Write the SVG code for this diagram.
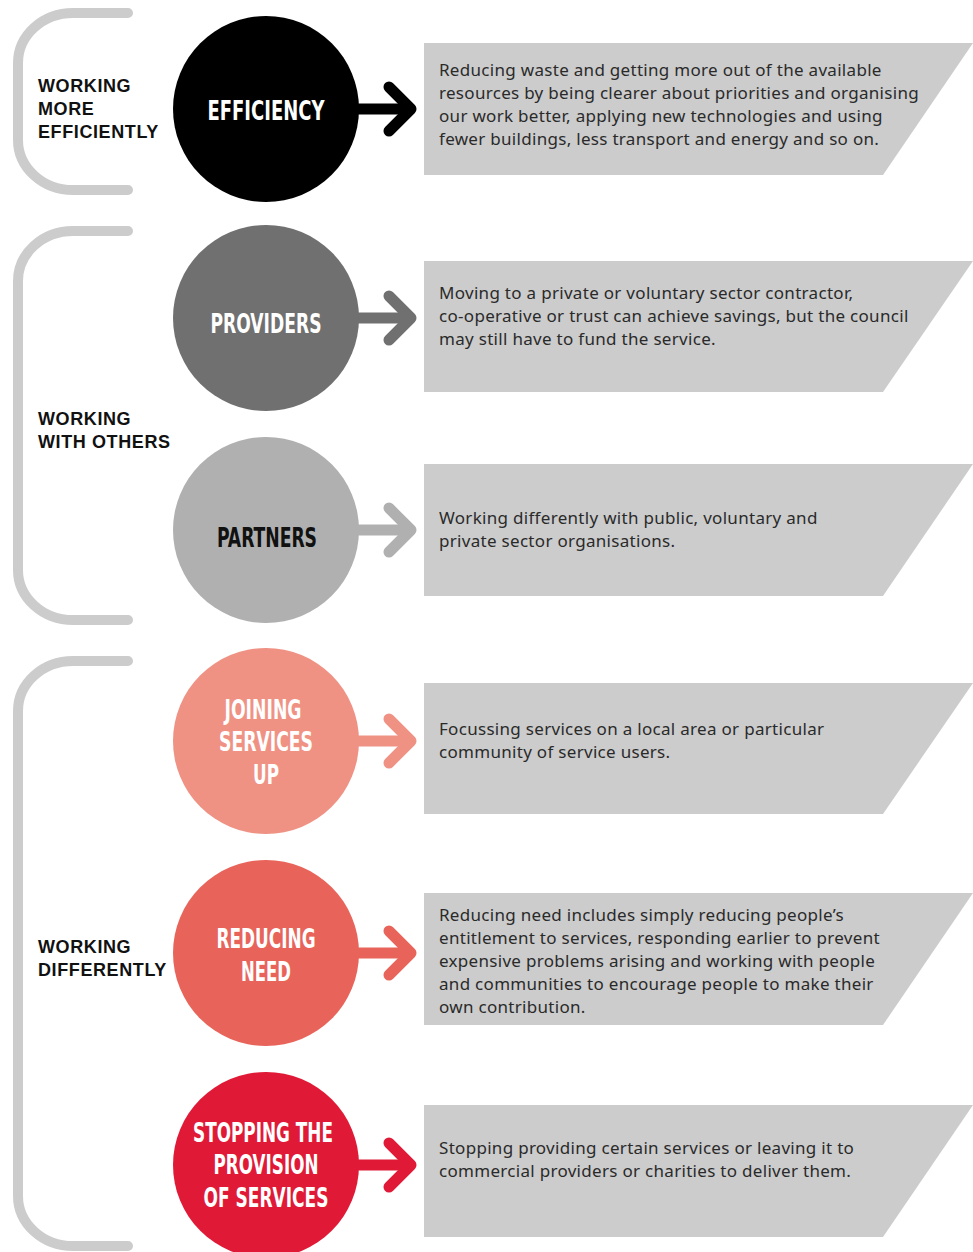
<svg xmlns="http://www.w3.org/2000/svg" width="973" height="1252" viewBox="0 0 973 1252">
  <style>
    .bracket { fill: none; stroke: #cccccc; stroke-width: 10; stroke-linecap: round; }
    .group-label { font-family: "Liberation Sans", "Arial", sans-serif; font-weight: 700; font-size: 18px; letter-spacing: 0.6px; fill: #111111; }
    .box { fill: #cccccc; }
    .desc { font-family: "Noto Sans", "Liberation Sans", sans-serif; font-size: 17px; letter-spacing: 0.3px; fill: #2a2a2a; }
    .circle-label { font-family: "DejaVu Sans Condensed", "Liberation Sans Narrow", "DejaVu Sans", sans-serif; font-weight: 700; font-size: 27px; text-anchor: middle; }
    .shaft { stroke-width: 11; stroke-linecap: butt; fill: none; }
    .head { stroke-width: 11; stroke-linecap: round; stroke-linejoin: round; fill: none; }
  </style>

  <!-- grouping brackets -->
  <g id="brackets">
    <path class="bracket" d="M128,13 H73 A55,50 0 0 0 18,63 V140 A55,50 0 0 0 73,190 H128"/>
    <path class="bracket" d="M128,231 H73 A55,50 0 0 0 18,281 V570 A55,50 0 0 0 73,620 H128"/>
    <path class="bracket" d="M128,661 H73 A55,50 0 0 0 18,711 V1196 A55,50 0 0 0 73,1246 H128"/>
  </g>

  <!-- group labels -->
  <g id="group-labels">
    <text class="group-label" x="38" y="92">WORKING</text>
    <text class="group-label" x="38" y="115">MORE</text>
    <text class="group-label" x="38" y="138">EFFICIENTLY</text>
    <text class="group-label" x="38" y="425">WORKING</text>
    <text class="group-label" x="38" y="448">WITH OTHERS</text>
    <text class="group-label" x="38" y="953">WORKING</text>
    <text class="group-label" x="38" y="976">DIFFERENTLY</text>
  </g>

  <!-- connectors: circle to description -->
  <g id="connectors">
    <line class="shaft" stroke="#000000" x1="355" y1="109" x2="410" y2="109"/>
    <polyline class="head" stroke="#000000" points="389,87 411,109 389,131"/>
    <line class="shaft" stroke="#707070" x1="355" y1="318" x2="410" y2="318"/>
    <polyline class="head" stroke="#707070" points="389,296 411,318 389,340"/>
    <line class="shaft" stroke="#b0b0b0" x1="355" y1="530" x2="410" y2="530"/>
    <polyline class="head" stroke="#b0b0b0" points="389,508 411,530 389,552"/>
    <line class="shaft" stroke="#ef9284" x1="355" y1="741" x2="410" y2="741"/>
    <polyline class="head" stroke="#ef9284" points="389,719 411,741 389,763"/>
    <line class="shaft" stroke="#e8645a" x1="355" y1="953" x2="410" y2="953"/>
    <polyline class="head" stroke="#e8645a" points="389,931 411,953 389,975"/>
    <line class="shaft" stroke="#e01a36" x1="355" y1="1165" x2="410" y2="1165"/>
    <polyline class="head" stroke="#e01a36" points="389,1143 411,1165 389,1187"/>
  </g>

  <!-- circles -->
  <g id="efficiency">
    <circle cx="266" cy="109" r="93" fill="#000000"/>
    <text class="circle-label" x="266" y="120" fill="#ffffff" textLength="117" lengthAdjust="spacingAndGlyphs">EFFICIENCY</text>
  </g>
  <g id="providers">
    <circle cx="266" cy="318" r="93" fill="#707070"/>
    <text class="circle-label" x="266" y="333" fill="#ffffff" textLength="111" lengthAdjust="spacingAndGlyphs">PROVIDERS</text>
  </g>
  <g id="partners">
    <circle cx="266" cy="530" r="93" fill="#b0b0b0"/>
    <text class="circle-label" x="267" y="547" fill="#111111" textLength="100" lengthAdjust="spacingAndGlyphs">PARTNERS</text>
  </g>
  <g id="joining-services-up">
    <circle cx="266" cy="741" r="93" fill="#ef9284"/>
    <text class="circle-label" x="263" y="719" fill="#ffffff" textLength="77" lengthAdjust="spacingAndGlyphs">JOINING</text>
    <text class="circle-label" x="266" y="751" fill="#ffffff" textLength="94" lengthAdjust="spacingAndGlyphs">SERVICES</text>
    <text class="circle-label" x="266" y="784" fill="#ffffff" textLength="26" lengthAdjust="spacingAndGlyphs">UP</text>
  </g>
  <g id="reducing-need">
    <circle cx="266" cy="953" r="93" fill="#e8645a"/>
    <text class="circle-label" x="266" y="948" fill="#ffffff" textLength="99" lengthAdjust="spacingAndGlyphs">REDUCING</text>
    <text class="circle-label" x="266" y="981" fill="#ffffff" textLength="50" lengthAdjust="spacingAndGlyphs">NEED</text>
  </g>
  <g id="stopping-provision">
    <circle cx="266" cy="1165" r="93" fill="#e01a36"/>
    <text class="circle-label" x="263" y="1142" fill="#ffffff" textLength="140" lengthAdjust="spacingAndGlyphs">STOPPING THE</text>
    <text class="circle-label" x="266" y="1174" fill="#ffffff" textLength="105" lengthAdjust="spacingAndGlyphs">PROVISION</text>
    <text class="circle-label" x="266" y="1207" fill="#ffffff" textLength="125" lengthAdjust="spacingAndGlyphs">OF SERVICES</text>
  </g>

  <!-- description panels -->
  <g id="efficiency-desc">
    <polygon class="box" points="424,43 973,43 883,175 424,175"/>
    <text class="desc" x="439" y="76">Reducing waste and getting more out of the available</text>
    <text class="desc" x="439" y="99">resources by being clearer about priorities and organising</text>
    <text class="desc" x="439" y="122">our work better, applying new technologies and using</text>
    <text class="desc" x="439" y="145">fewer buildings, less transport and energy and so on.</text>
  </g>
  <g id="providers-desc">
    <polygon class="box" points="424,261 973,261 883,392 424,392"/>
    <text class="desc" x="439" y="299">Moving to a private or voluntary sector contractor,</text>
    <text class="desc" x="439" y="322">co-operative or trust can achieve savings, but the council</text>
    <text class="desc" x="439" y="345">may still have to fund the service.</text>
  </g>
  <g id="partners-desc">
    <polygon class="box" points="424,464 973,464 883,596 424,596"/>
    <text class="desc" x="439" y="524">Working differently with public, voluntary and</text>
    <text class="desc" x="439" y="547">private sector organisations.</text>
  </g>
  <g id="joining-desc">
    <polygon class="box" points="424,683 973,683 883,814 424,814"/>
    <text class="desc" x="439" y="735">Focussing services on a local area or particular</text>
    <text class="desc" x="439" y="758">community of service users.</text>
  </g>
  <g id="reducing-desc">
    <polygon class="box" points="424,893 973,893 883,1025 424,1025"/>
    <text class="desc" x="439" y="921">Reducing need includes simply reducing people’s</text>
    <text class="desc" x="439" y="944">entitlement to services, responding earlier to prevent</text>
    <text class="desc" x="439" y="967">expensive problems arising and working with people</text>
    <text class="desc" x="439" y="990">and communities to encourage people to make their</text>
    <text class="desc" x="439" y="1013">own contribution.</text>
  </g>
  <g id="stopping-desc">
    <polygon class="box" points="424,1105 973,1105 883,1237 424,1237"/>
    <text class="desc" x="439" y="1154">Stopping providing certain services or leaving it to</text>
    <text class="desc" x="439" y="1177">commercial providers or charities to deliver them.</text>
  </g>
</svg>
